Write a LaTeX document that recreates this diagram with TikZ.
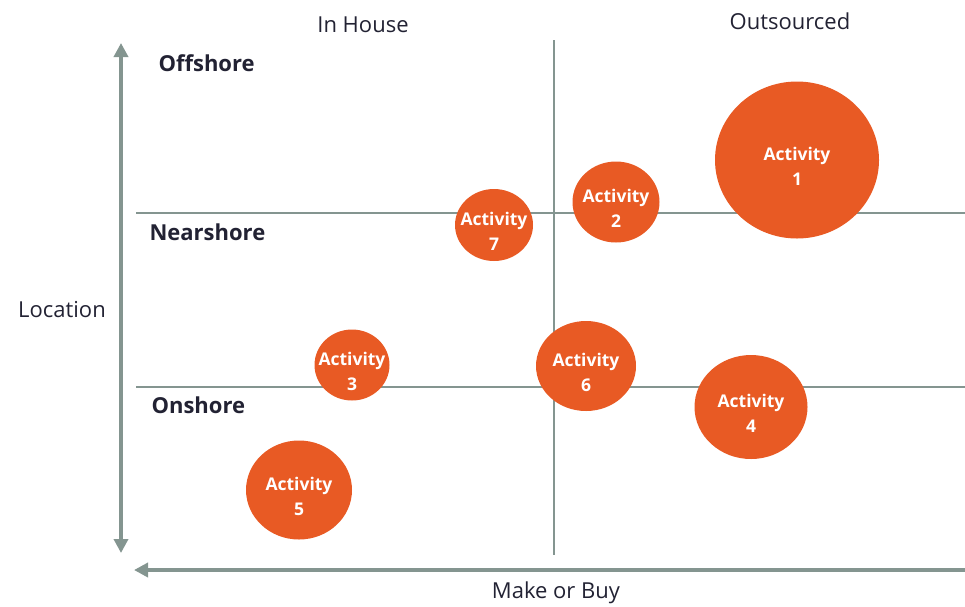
\documentclass[tikz,border=0pt]{standalone}
\usepackage{fontspec}
\setmainfont{Open Sans}
\usetikzlibrary{arrows.meta,shapes.geometric}
\definecolor{axisgray}{HTML}{849590}
\definecolor{bubble}{HTML}{E85A24}
\definecolor{labeldark}{HTML}{222233}
\tikzset{
  axis/.style={draw=axisgray,line width=4pt,-{Triangle[length=14pt,width=14pt]}},
  grid/.style={draw=axisgray,line width=1.6pt},
  bub/.style={ellipse,fill=bubble,draw=none,inner sep=0pt},
  bubtext/.style={text=white,font=\fontsize{17.5}{25}\selectfont\bfseries,align=center,inner sep=0pt,yshift=-6pt},
  zone/.style={font=\fontsize{22}{26}\selectfont\bfseries,text=labeldark,anchor=west},
  head/.style={font=\fontsize{22}{26}\selectfont,text=labeldark},
}
\begin{document}
\begin{tikzpicture}[x=1pt,y=-1pt]
\useasboundingbox (0,0) rectangle (965,606);
% grid lines
\coordinate (vtop) at (554,40);
\coordinate (vbot) at (554,555);
\coordinate (n1) at (136,213);
\coordinate (n2) at (965,213);
\coordinate (o1) at (136,387);
\coordinate (o2) at (965,387);
\draw[grid] (vtop) -- (vbot);
\draw[grid] (n1) -- (n2);
\draw[grid] (o1) -- (o2);
% axes
\coordinate (ya) at (121,43);
\coordinate (yb) at (121,553);
\coordinate (xa) at (965,570);
\coordinate (xb) at (134,570);
\draw[axis,{Triangle[length=14pt,width=14pt]}-{Triangle[length=14pt,width=14pt]}] (yb) -- (ya);
\draw[axis] (xa) -- (xb);
% labels
\node[zone] (off) at (155,63) {Offshore};
\node[zone] (near) at (146,232) {Nearshore};
\node[zone] (on) at (148,405) {Onshore};
\node[head] (loc) at (62,310) {Location};
\node[head] (inh) at (363,25) {In House};
\node[head] (outs) at (790,21) {Outsourced};
\node[head] (mob) at (556,593) {Make or Buy};
% bubbles
\node[bub,minimum width=164pt,minimum height=157pt] (a1) at (797,160) {};
\node[bub,minimum width=87pt,minimum height=81pt] (a2) at (616,202) {};
\node[bub,minimum width=78pt,minimum height=72pt] (a7) at (494,225) {};
\node[bub,minimum width=75pt,minimum height=71pt] (a3) at (352,365) {};
\node[bub,minimum width=100pt,minimum height=90pt] (a6) at (586,366) {};
\node[bub,minimum width=113pt,minimum height=104pt] (a4) at (751,407) {};
\node[bub,minimum width=106pt,minimum height=99pt] (a5) at (299,490) {};
\node[bubtext] (t1) at (a1.center) {Activity\\1};
\node[bubtext] (t2) at (a2.center) {Activity\\2};
\node[bubtext] (t7) at (a7.center) {Activity\\7};
\node[bubtext] (t3) at (a3.center) {Activity\\3};
\node[bubtext] (t6) at (a6.center) {Activity\\6};
\node[bubtext] (t4) at (a4.center) {Activity\\4};
\node[bubtext] (t5) at (a5.center) {Activity\\5};
\end{tikzpicture}
\end{document}
